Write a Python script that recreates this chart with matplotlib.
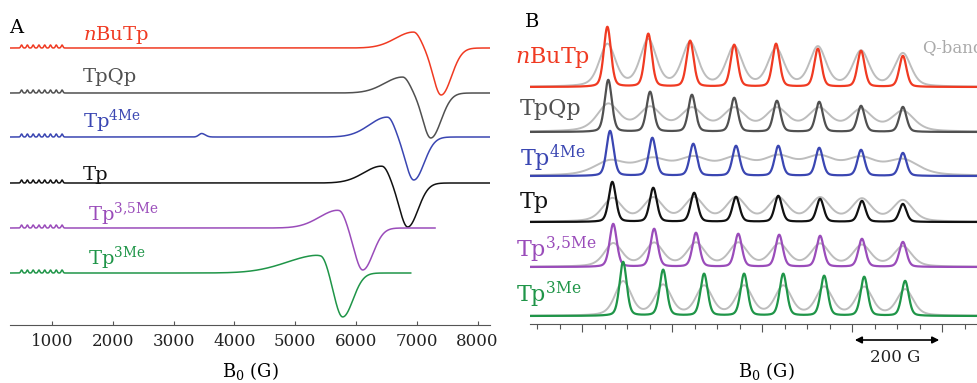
import numpy as np
import matplotlib
matplotlib.use('Agg')
import matplotlib.pyplot as plt

plt.rcParams['font.family'] = ['DejaVu Serif']
plt.rcParams['mathtext.fontset'] = 'custom'
plt.rcParams['mathtext.rm'] = 'DejaVu Serif'
plt.rcParams['mathtext.it'] = 'DejaVu Serif:italic'

# ---- data ----
names = [r'$\mathit{n}$BuTp', 'TpQp', r'Tp$^{\mathregular{4Me}}$', 'Tp',
         r'Tp$^{\mathregular{3{,}5Me}}$', r'Tp$^{\mathregular{3Me}}$']
colors = ['#f03a22', '#505050', '#3a46b2', '#111111', '#9a4cba', '#1f9548']
qband_color = '#bdbdbd'

# panel A (X-band, wide scan), field in G, amplitudes in px
a_offset = [277, 232, 188, 142, 97, 52]
a_end = [8200, 8200, 8200, 8200, 7300, 6900]
a_peak_pos = [6950, 6770, 6520, 6430, 5720, 5420]
a_peak_h = [16, 16, 20, 17, 18, 18]
a_peak_wl = [300, 300, 300, 300, 320, 550]
a_trough_pos = [7400, 7230, 6950, 6850, 6110, 5780]
a_trough_d = [47, 45, 43, 44, 42, 44]
ripple_pos = [500, 595, 690, 785, 880, 975, 1070, 1165]
ripple_h = 3.0
bump_4me = (3460, 3.5)

# panel B (hyperfine region), field in G relative to first tick
b_offset = [237, 192, 148, 102, 57, 8]
b_pos = [
    [156, 247, 340, 438, 531, 624, 720, 813],
    [158, 251, 344, 438, 533, 627, 720, 813],
    [162, 256, 347, 442, 536, 627, 720, 813],
    [167, 258, 349, 442, 536, 629, 722, 813],
    [169, 260, 353, 447, 538, 629, 722, 813],
    [191, 280, 371, 460, 547, 638, 727, 818],
]
b_height = [
    [60, 53, 46, 42, 43, 38, 36, 31],
    [52, 40, 37, 34, 31, 30, 26, 25],
    [45, 38, 32, 30, 30, 28, 26, 23],
    [40, 34, 29, 25, 26, 23, 21, 18],
    [43, 38, 34, 33, 32, 31, 28, 25],
    [54, 46, 42, 42, 42, 40, 39, 35],
]
q_height = [
    [42, 46, 43, 39, 37, 39, 35, 33],
    [27, 23, 22, 22, 22, 22, 21, 20],
    [14, 15, 16, 16, 17, 17, 16, 15],
    [23, 23, 23, 23, 23, 23, 22, 21],
    [23, 23, 23, 23, 22, 22, 21, 20],
    [34, 30, 29, 29, 29, 28, 28, 26],
]
q_sigma = [18, 25, 35, 22, 20, 18]
q_eta = [0.4, 0.5, 0.5, 0.45, 0.45, 0.4]


def agauss(x, c, h, sl, sr):
    s = np.where(x < c, sl, sr)
    return h * np.exp(-0.5 * ((x - c) / s) ** 2)


def pvoigt(x, c, h, w, eta=0.3):
    g = np.exp(-0.5 * ((x - c) / w) ** 2)
    l = 1.0 / (1.0 + ((x - c) / (1.18 * w)) ** 2)
    return h * ((1 - eta) * g + eta * l)


W, H = 978, 383
fig = plt.figure(figsize=(W / 100, H / 100), dpi=100)


def fx(px):
    return px / W


def fy(py):
    return 1 - py / H


# ---- panel A ----
axA = fig.add_axes([fx(10), fy(325), fx(490) - fx(10), fy(0) - fy(325)])
for i in range(6):
    x = np.linspace(309, a_end[i], 3000)
    y = (agauss(x, a_peak_pos[i], a_peak_h[i], a_peak_wl[i], 110)
         - agauss(x, a_trough_pos[i], a_trough_d[i], 130, 170))
    for r in ripple_pos:
        y = y + agauss(x, r, ripple_h, 14, 14)
    if i == 2:
        y = y + agauss(x, bump_4me[0], bump_4me[1], 45, 60)
    axA.plot(x, a_offset[i] + y, color=colors[i], lw=1.1)
axA.set_xlim(309, 8204)
axA.set_ylim(0, 325)
axA.set_xticks(np.arange(1000, 8001, 1000))
axA.set_yticks([])
for s in ['top', 'right', 'left']:
    axA.spines[s].set_visible(False)
axA.spines['bottom'].set_color('#555555')
axA.tick_params(axis='x', direction='in', length=3, width=0.8,
                labelsize=12, pad=6, colors='#555555', labelcolor='#222222')

# ---- panel B ----
axB = fig.add_axes([fx(530), fy(324), fx(978) - fx(530), fy(0) - fy(324)])
xb = np.linspace(-16, 980, 3000)
for i in range(6):
    yq = np.zeros_like(xb)
    yc = np.zeros_like(xb)
    for c, h, hq in zip(b_pos[i], b_height[i], q_height[i]):
        yc = yc + pvoigt(xb, c, h, 8.0)
        yq = yq + pvoigt(xb, c, hq, q_sigma[i], q_eta[i])
    axB.plot(xb, b_offset[i] + yq, color=qband_color, lw=1.4)
    axB.plot(xb, b_offset[i] + yc, color=colors[i], lw=1.6)
axB.set_xlim(-16, 980)
axB.set_ylim(0, 324)
axB.set_xticks(np.arange(100, 901, 200))
axB.set_xticks([t for t in range(0, 951, 50) if (t - 100) % 200 != 0], minor=True)
axB.set_xticklabels([])
axB.set_yticks([])
for s in ['top', 'right', 'left']:
    axB.spines[s].set_visible(False)
axB.spines['bottom'].set_color('#555555')
axB.tick_params(axis='x', which='major', direction='out', length=6, width=0.8, colors='#555555')
axB.tick_params(axis='x', which='minor', direction='out', length=3.5, width=0.8, colors='#555555')

# 200 G scale bar
axB.annotate('', xy=(900, -16), xytext=(700, -16), xycoords='data',
             arrowprops=dict(arrowstyle='<|-|>', color='black', lw=1.2,
                             mutation_scale=10), annotation_clip=False)
fig.text(fx(895), fy(358), '200 G', ha='center', va='center', fontsize=12, color='#222222')
fig.text(fx(922), fy(48), 'Q-band', ha='left', va='center', fontsize=12, color='#aaaaaa')

# ---- labels ----
a_lab_x = [83, 83, 83, 83, 88, 88]
a_lab_y = [40, 82, 128, 180, 221, 265]
b_lab_x = [515, 520, 520, 520, 516, 516]
b_lab_y = [63, 115, 166, 208, 257, 302]
for i in range(6):
    fig.text(fx(a_lab_x[i]), fy(a_lab_y[i]), names[i], color=colors[i],
             fontsize=14, ha='left', va='baseline')
    fig.text(fx(b_lab_x[i]), fy(b_lab_y[i]), names[i], color=colors[i],
             fontsize=16, ha='left', va='baseline')

fig.text(fx(9), fy(33), 'A', fontsize=14, ha='left', va='baseline')
fig.text(fx(525), fy(27), 'B', fontsize=14, ha='left', va='baseline')
fig.text(fx(250), fy(377), r'B$_\mathregular{0}$ (G)', fontsize=13, ha='center', va='baseline')
fig.text(fx(766), fy(377), r'B$_\mathregular{0}$ (G)', fontsize=13, ha='center', va='baseline')

fig.savefig('out.png', dpi=100, facecolor='white')
